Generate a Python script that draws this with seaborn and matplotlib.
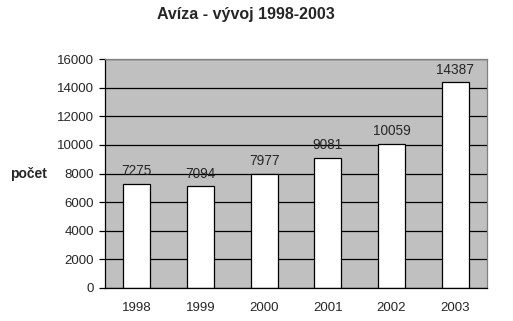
import matplotlib
matplotlib.use("Agg")
import matplotlib.pyplot as plt
import seaborn as sns
import pandas as pd
import numpy as np

years = ["1998", "1999", "2000", "2001", "2002", "2003"]
counts = [7275, 7094, 7977, 9081, 10059, 14387]
yticks = [0, 2000, 4000, 6000, 8000, 10000, 12000, 14000, 16000]

sns.set_style("white")
plt.rcParams['font.family'] = ['Arial', 'Liberation Sans', 'DejaVu Sans']

df = pd.DataFrame({"rok": years, "pocet": counts})

fig = plt.figure(figsize=(5.13, 3.21), dpi=100)
ax = fig.add_axes([105/513, 1-288/321, (487-105)/513, (288-59)/321])
ax.set_facecolor("#C0C0C0")
ax.set_axisbelow(True)
ax.yaxis.grid(True, color="black", linewidth=0.9)
ax.xaxis.grid(False)

sns.barplot(data=df, x="rok", y="pocet", ax=ax, color="white",
            edgecolor="black", linewidth=0.9, width=0.42, saturation=1)
for p, v in zip(ax.patches, counts):
    ax.annotate(str(v), (p.get_x() + p.get_width()/2, v), xytext=(0, 4),
                textcoords="offset points", ha="center", va="bottom",
                fontsize=9.8)

ax.set_xlim(-0.5, 5.5)
ax.set_ylim(0, 16000)
ax.set_yticks(yticks)
ax.set_yticklabels([str(t) for t in yticks], fontsize=9.5)
ax.set_xticks(range(6))
ax.set_xticklabels(years, fontsize=9.5)
ax.set_xticks(np.arange(-0.5, 6, 1), minor=True)
ax.tick_params(axis="x", which="major", length=0, pad=10)
ax.tick_params(axis="x", which="minor", length=4, width=0.9, color="black", direction="out")
ax.tick_params(axis="y", length=4, width=0.9, color="black", direction="out", pad=4, left=True)
ax.set_xlabel("")
ax.set_ylabel("")
for s in ["left", "bottom"]:
    ax.spines[s].set_color("black")
    ax.spines[s].set_linewidth(0.9)
for s in ["top", "right"]:
    ax.spines[s].set_color("#808080")
    ax.spines[s].set_linewidth(0.9)

fig.text(246/513, 1-19.5/321, "Avíza - vývoj 1998-2003", ha="center", va="baseline",
         fontsize=11.5, fontweight="bold")
fig.text(10/513, 1-174/321, "počet", ha="left", va="center",
         fontsize=10, fontweight="bold")

fig.savefig("out.png", dpi=100, facecolor="white")
